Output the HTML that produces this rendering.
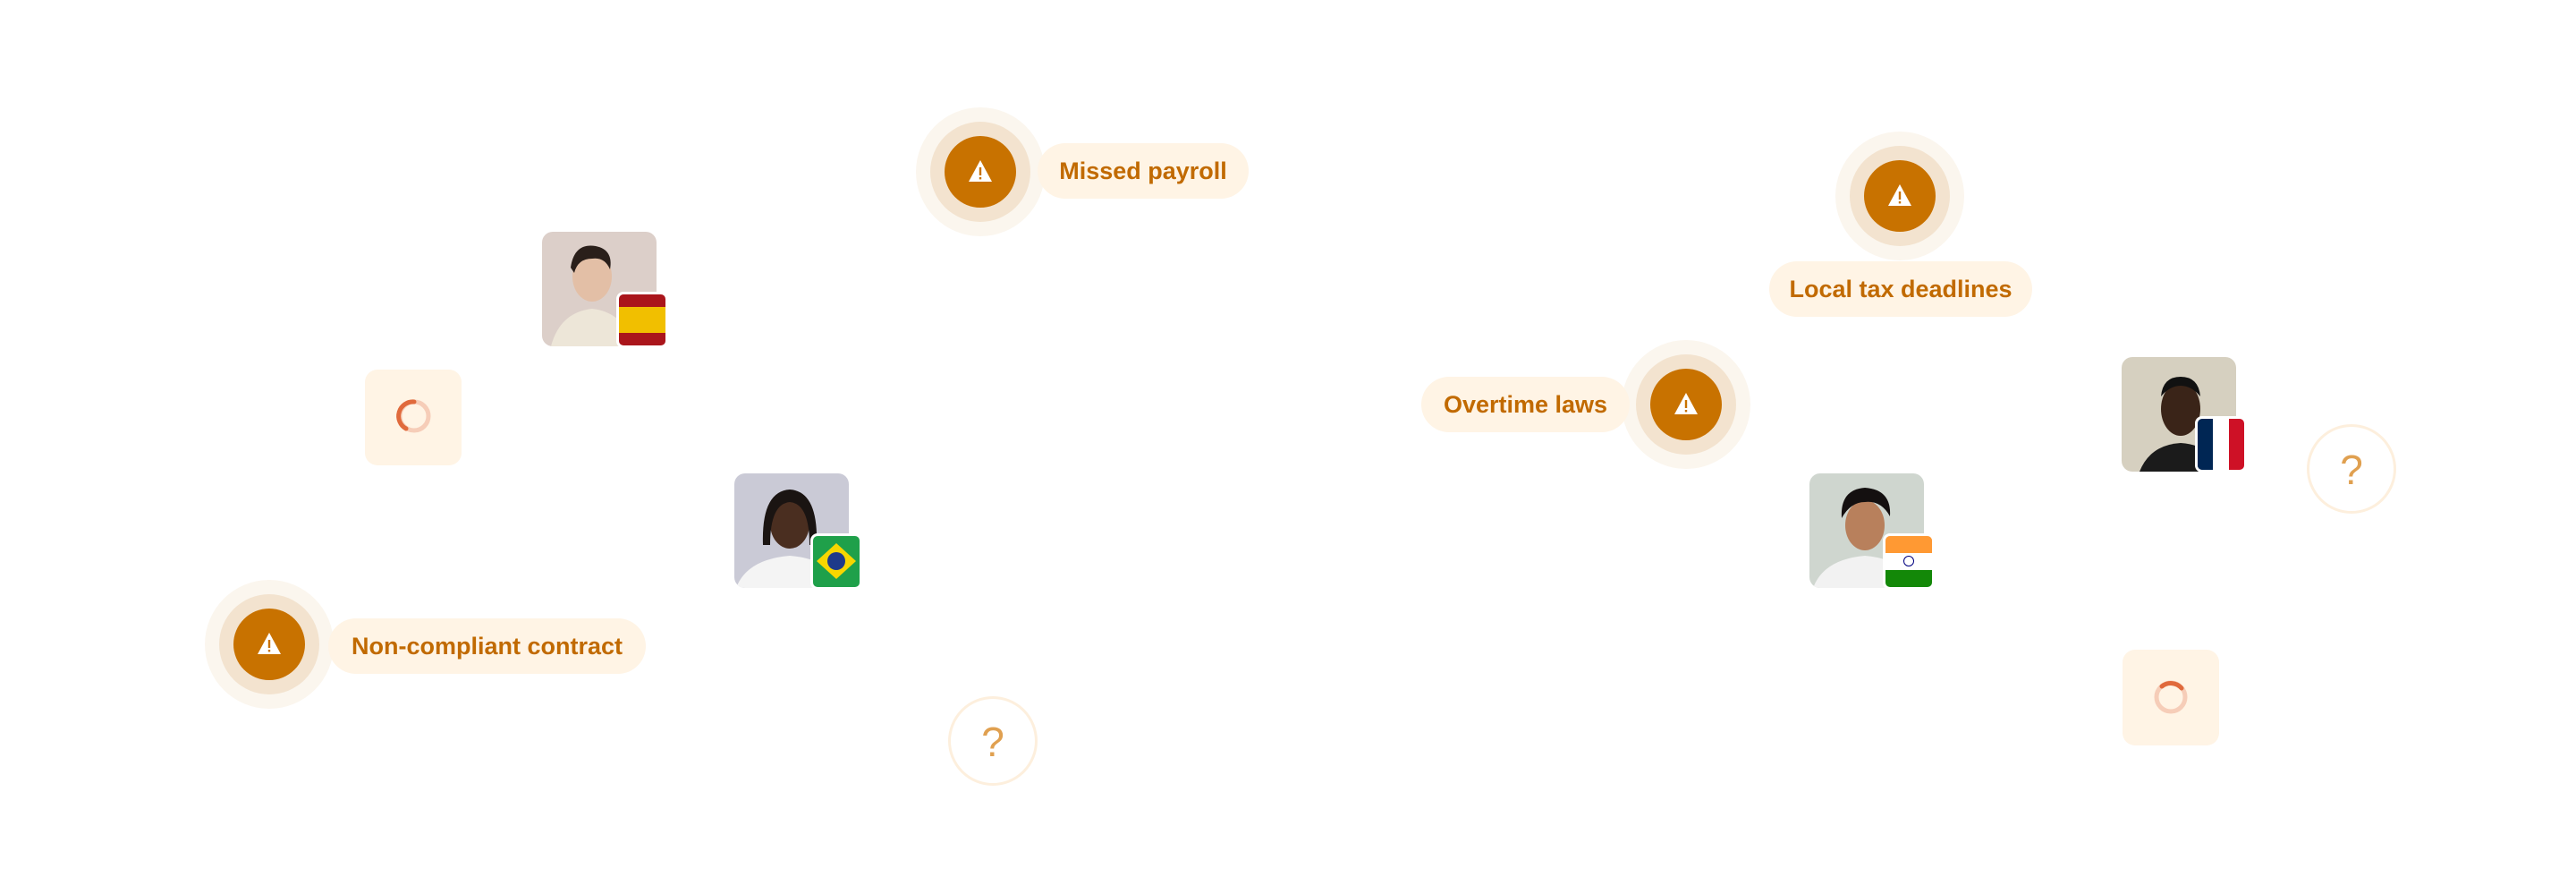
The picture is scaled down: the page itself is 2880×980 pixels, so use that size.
<!DOCTYPE html>
<html><head><meta charset="utf-8"><style>
html,body{margin:0;padding:0;background:#fff;}
body{width:2880px;height:980px;position:relative;overflow:hidden;font-family:"Liberation Sans",sans-serif;}
.w{position:absolute;width:144px;height:144px;border-radius:50%;background:#FBF6EE;}
.w .r{position:absolute;left:16px;top:16px;width:112px;height:112px;border-radius:50%;background:#F3E3CF;}
.w .c{position:absolute;left:32px;top:32px;width:80px;height:80px;border-radius:50%;background:#C87200;}
.w svg{position:absolute;left:58px;top:58px;}
.p{position:absolute;height:62px;border-radius:31px;background:#FFF4E5;color:#C16A00;font-weight:bold;font-size:27px;line-height:62px;text-align:center;}
.ph{position:absolute;width:128px;height:128px;border-radius:12px;overflow:hidden;}
.fl{position:absolute;width:52px;height:57px;border-radius:8px;border:3px solid #fff;overflow:hidden;box-sizing:content-box;}
.sp{position:absolute;width:108px;height:107px;border-radius:14px;background:#FFF4E5;}
.q{position:absolute;width:100px;height:100px;border-radius:50%;border:3px solid #FDEFDD;box-sizing:border-box;color:#E0A050;font-size:46px;text-align:center;line-height:96px;}
</style></head><body>

<!-- warning nodes -->
<div class="w" style="left:1024px;top:120px"><div class="r"></div><div class="c"></div><svg width="28" height="26" viewBox="0 0 28 26"><path d="M14 1 L27 25 L1 25 Z" fill="#fff"/><rect x="12.8" y="9" width="2.4" height="9" fill="#C87200"/><rect x="12.8" y="20" width="2.4" height="2.4" fill="#C87200"/></svg></div>
<div class="p" style="left:1160px;top:160px;width:236px">Missed payroll</div>

<div class="w" style="left:229px;top:648px"><div class="r"></div><div class="c"></div><svg width="28" height="26" viewBox="0 0 28 26"><path d="M14 1 L27 25 L1 25 Z" fill="#fff"/><rect x="12.8" y="9" width="2.4" height="9" fill="#C87200"/><rect x="12.8" y="20" width="2.4" height="2.4" fill="#C87200"/></svg></div>
<div class="p" style="left:367px;top:691px;width:355px">Non-compliant contract</div>

<div class="w" style="left:2052px;top:147px"><div class="r"></div><div class="c"></div><svg width="28" height="26" viewBox="0 0 28 26"><path d="M14 1 L27 25 L1 25 Z" fill="#fff"/><rect x="12.8" y="9" width="2.4" height="9" fill="#C87200"/><rect x="12.8" y="20" width="2.4" height="2.4" fill="#C87200"/></svg></div>
<div class="p" style="left:1978px;top:292px;width:294px">Local tax deadlines</div>

<div class="w" style="left:1813px;top:380px"><div class="r"></div><div class="c"></div><svg width="28" height="26" viewBox="0 0 28 26"><path d="M14 1 L27 25 L1 25 Z" fill="#fff"/><rect x="12.8" y="9" width="2.4" height="9" fill="#C87200"/><rect x="12.8" y="20" width="2.4" height="2.4" fill="#C87200"/></svg></div>
<div class="p" style="left:1589px;top:421px;width:233px">Overtime laws</div>

<!-- photos -->
<div class="ph" style="left:606px;top:259px;background:#DCCFC9"><svg width="128" height="128"><ellipse cx="56" cy="50" rx="22" ry="28" fill="#E3BFA6"/><path d="M32 40 Q36 12 60 16 Q80 20 76 42 Q70 28 56 30 Q40 30 36 46Z" fill="#2A1F1A"/><path d="M10 128 Q20 90 56 86 Q92 90 102 128Z" fill="#EDE6D8"/></svg></div>
<div class="fl" style="left:689px;top:326px"><div style="height:14px;background:#AA151B"></div><div style="height:29px;background:#F1BF00"></div><div style="height:14px;background:#AA151B"></div></div>

<div class="ph" style="left:821px;top:529px;background:#CACAD6"><svg width="128" height="128"><ellipse cx="62" cy="56" rx="22" ry="28" fill="#4A2E20"/><path d="M32 80 Q30 20 62 18 Q94 20 92 80 L84 80 Q84 34 62 32 Q40 34 40 80Z" fill="#1A1412"/><path d="M2 128 Q14 96 62 92 Q110 96 120 128Z" fill="#F4F4F4"/></svg></div>
<div class="fl" style="left:906px;top:596px;background:#1FA04A"><svg width="52" height="57"><polygon points="26,8 48,28 26,48 4,28" fill="#F7D600"/><circle cx="26" cy="28" r="10" fill="#1E3A8A"/></svg></div>

<div class="ph" style="left:2372px;top:399px;background:#D6D0C0"><svg width="128" height="128"><ellipse cx="66" cy="58" rx="22" ry="30" fill="#3A2418"/><path d="M44 44 Q46 22 66 22 Q86 22 88 44 Q78 32 66 32 Q54 32 44 44Z" fill="#111"/><path d="M20 128 Q32 98 66 96 Q100 98 112 128Z" fill="#1B1B1B"/></svg></div>
<div class="fl" style="left:2454px;top:465px;display:flex"><div style="width:17px;background:#002654"></div><div style="width:18px;background:#fff"></div><div style="width:17px;background:#CE1126"></div></div>

<div class="ph" style="left:2023px;top:529px;background:#CFD6CF"><svg width="128" height="128"><ellipse cx="62" cy="58" rx="22" ry="28" fill="#B8805C"/><path d="M36 50 Q34 18 62 16 Q92 18 90 48 Q80 30 62 32 Q46 32 36 50Z" fill="#141010"/><path d="M4 128 Q16 96 62 92 Q108 96 120 128Z" fill="#F2F2F2"/></svg></div>
<div class="fl" style="left:2105px;top:596px"><div style="height:19px;background:#FF9933"></div><div style="height:19px;background:#fff;position:relative"><div style="position:absolute;left:20px;top:3px;width:10px;height:10px;border:1.5px solid #000080;border-radius:50%"></div></div><div style="height:19px;background:#138808"></div></div>

<!-- spinners -->
<div class="sp" style="left:408px;top:413px"><svg width="108" height="107"><circle cx="55" cy="52" r="16" fill="none" stroke="#F6CDB8" stroke-width="5"/><path d="M55 36 A16 16 0 0 0 46 66" fill="none" stroke="#E06A3C" stroke-width="5" stroke-linecap="round"/></svg></div>
<div class="sp" style="left:2373px;top:726px"><svg width="108" height="107"><circle cx="54" cy="53" r="16" fill="none" stroke="#F6CDB8" stroke-width="5"/><path d="M44 41 A16 16 0 0 1 66 43" fill="none" stroke="#E06A3C" stroke-width="5" stroke-linecap="round"/></svg></div>

<!-- question marks -->
<div class="q" style="left:1060px;top:778px">?</div>
<div class="q" style="left:2579px;top:474px">?</div>

</body></html>
